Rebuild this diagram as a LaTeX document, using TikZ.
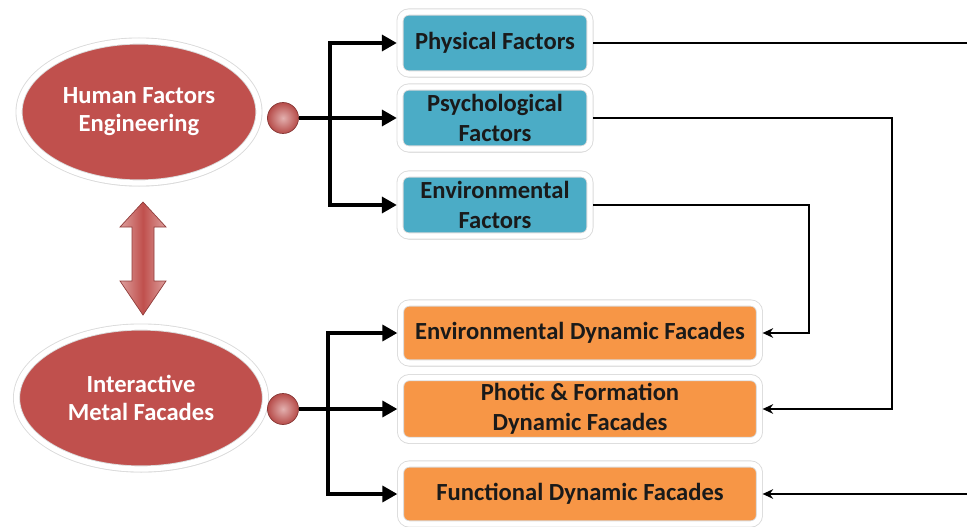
\documentclass[tikz,border=0pt]{standalone}
\usepackage{fontspec}
\setmainfont{Carlito}
\usetikzlibrary{shapes.geometric,shadows,arrows.meta}
\definecolor{hfRed}{HTML}{C0504D}
\definecolor{hfBlue}{HTML}{4BACC6}
\definecolor{hfOrange}{HTML}{F79646}
\definecolor{hfRim}{HTML}{DADADA}
\definecolor{hfText}{HTML}{1A1A1A}

\begin{document}
\begin{tikzpicture}[x=0.02cm,y=-0.02cm,
    >={Triangle[length=8.5pt,width=9pt]},
    rim/.style={draw=hfRim, double=white, double distance=3pt, line width=0.5pt,
      drop shadow={shadow xshift=0.3pt,shadow yshift=-2pt,fill=gray!40}},
    oval/.style={ellipse, rim, fill=hfRed, text=white, align=center, inner sep=0pt,
      font=\fontsize{14}{16}\selectfont\bfseries},
    factor/.style={rectangle, rounded corners=5pt, rim, fill=hfBlue, text=hfText,
      align=center, minimum width=3.8cm, minimum height=1.24cm, outer sep=1.8pt,
      font=\fontsize{14}{17}\selectfont\bfseries},
    facade/.style={factor, fill=hfOrange, minimum width=7.18cm, minimum height=1.2cm},
    knob/.style={circle, minimum size=0.62cm, inner sep=0pt, draw=hfRed!70!black, line width=0.4pt,
      inner color=hfRed!45!white, outer color=hfRed!95!black},
    bus/.style={line width=2.3pt, line join=miter},
    link/.style={line width=0.8pt},
    into/.style={link, -{Stealth[length=6pt,width=5.5pt]}}]

        \useasboundingbox (0,0) rectangle (967,527);

        % Ovale
        \node[oval, minimum width=4.8cm, minimum height=2.84cm] (hfe) at (139,112) {Human Factors\\Engineering};
        \node[oval, minimum width=4.98cm, minimum height=2.84cm] (imf) at (141,398) {Interactive\\Metal Facades};
        \node[knob] (hfeKnob) at (283,118) {};
        \node[knob] (imfKnob) at (283,409) {};

        % Doppelpfeil
        \draw[draw=hfRed!75!black, left color=hfRed!55!white, right color=hfRed!55!white, middle color=hfRed]
            (143,202) -- (166,227) -- (154,227)
            -- (154,281) -- (166,281)
            -- (143,315) -- (120,281) -- (132,281)
            -- (132,227) -- (120,227) -- cycle;

        % Faktoren
        \node[factor] (phy) at (495,43) {Physical Factors};
        \node[factor] (psy) at (495,118) {Psychological\\Factors};
        \node[factor] (env) at (495,205) {Environmental\\Factors};

        % Fassaden
        \node[facade] (edf) at (580,333) {Environmental Dynamic Facades};
        \node[facade] (pdf) at (580,409) {Photic \& Formation\\Dynamic Facades};
        \node[facade] (fdf) at (580,494) {Functional Dynamic Facades};

        % dicke Pfeile
        \coordinate (hfeBus) at (330,118);
        \coordinate (imfBus) at (328,409);
        \draw[bus,->] (hfeKnob.east) -- (psy.west);
        \draw[bus,<->] (phy.west) -- (hfeBus |- phy.west) -- (hfeBus |- env.west) -- (env.west);
        \draw[bus,->] (imfKnob.east) -- (pdf.west);
        \draw[bus,<->] (edf.west) -- (imfBus |- edf.west) -- (imfBus |- fdf.west) -- (fdf.west);

        % duenne Verbindungen
        \coordinate (phyOut) at (967,43);
        \coordinate (fdfIn) at (967,494);
        \draw[link] (phy.east) -- (phyOut);
        \draw[into] (psy.east) -- (892,118) |- (pdf.east);
        \draw[into] (env.east) -- (809,205) |- (edf.east);
        \draw[into] (fdfIn) -- (fdf.east);
    \end{tikzpicture}
\end{document}
